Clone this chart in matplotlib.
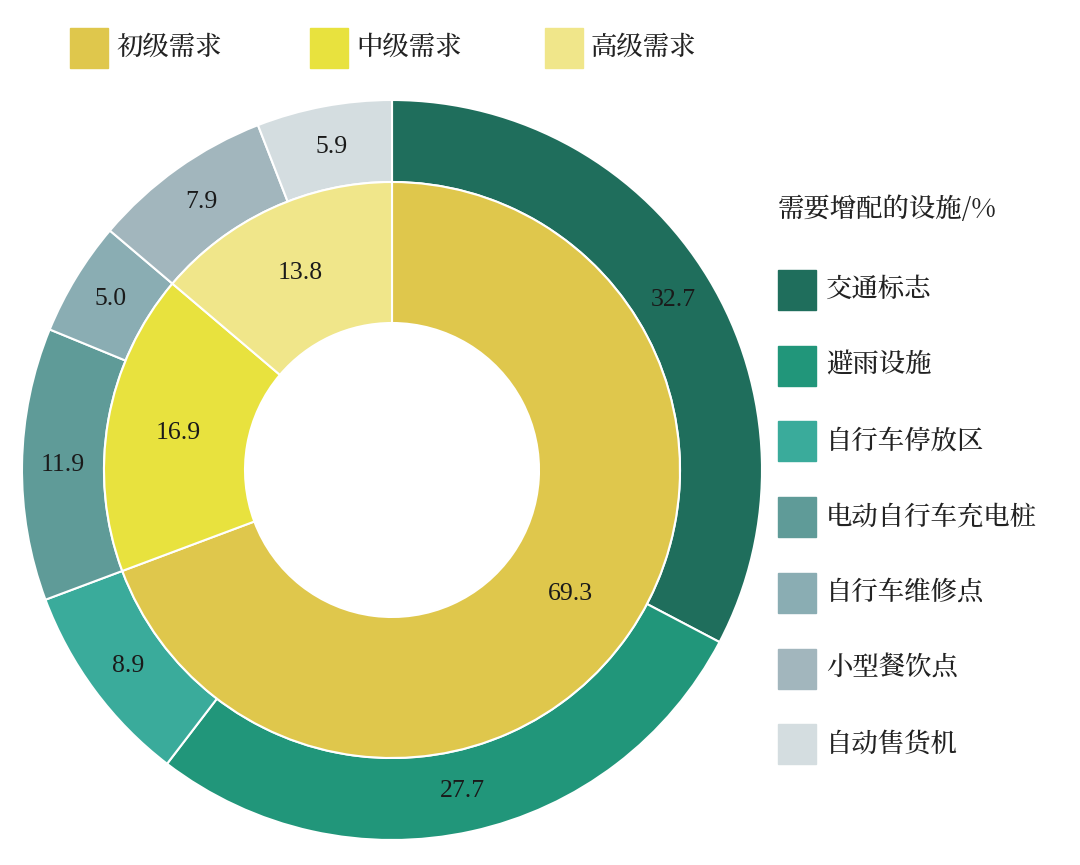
import matplotlib
matplotlib.use("Agg")
import matplotlib.pyplot as plt
from matplotlib.patches import Rectangle
from matplotlib import font_manager as fm

cjk = None
for f in fm.fontManager.ttflist:
    if 'CJK' in f.name and ('SC' in f.name or cjk is None):
        cjk = f
        if 'SC' in f.name:
            break
cjk_prop = fm.FontProperties(fname=cjk.fname, size=19) if cjk else fm.FontProperties(family='sans-serif', size=19)

outer_labels = ["交通标志", "避雨设施", "自行车停放区", "电动自行车充电桩", "自行车维修点", "小型餐饮点", "自动售货机"]
outer_values = [32.7, 27.7, 8.9, 11.9, 5.0, 7.9, 5.9]
outer_colors = ["#1f6e5c", "#21967a", "#3aab9b", "#5f9b98", "#8aadb3", "#a2b6bd", "#d4dde0"]
inner_labels = ["初级需求", "中级需求", "高级需求"]
inner_values = [69.3, 16.9, 13.8]
inner_colors = ["#dfc74c", "#e8e23e", "#f0e68a"]

fig = plt.figure(figsize=(10.8, 8.65), dpi=100)
ax = fig.add_axes([22/1080, 25/865, 740/1080, 740/865])
R = 1.0
w_out = 82/370
r_mid = 288/370
w_in = (288-147)/370

ax.pie(outer_values, radius=R, colors=outer_colors, startangle=90, counterclock=False,
       wedgeprops=dict(width=w_out, edgecolor='white', linewidth=1.5),
       labels=[f"{v:.1f}" for v in outer_values], labeldistance=(R - w_out/2)/R,
       textprops=dict(fontsize=18.5, family='Liberation Serif', ha='center', va='center', color='#1a1a1a'))
ax.pie(inner_values, radius=r_mid, colors=inner_colors, startangle=90, counterclock=False,
       wedgeprops=dict(width=w_in, edgecolor='white', linewidth=1.5),
       labels=[f"{v:.1f}" for v in inner_values], labeldistance=(r_mid - w_in/2)/r_mid,
       textprops=dict(fontsize=18.5, family='Liberation Serif', ha='center', va='center', color='#1a1a1a'))
ax.set_xlim(-1, 1); ax.set_ylim(-1, 1)
ax.set_aspect('equal')

W, H = 1080, 865
top_x = [70, 310, 545]
for i, (lab, c) in enumerate(zip(inner_labels, inner_colors)):
    x0 = top_x[i]
    fig.add_artist(Rectangle((x0/W, (H-68)/H), 38/W, 40/H, color=c, transform=fig.transFigure))
    fig.text((x0+46)/W, (H-48)/H, lab, fontproperties=cjk_prop, va='center', ha='left', color='#222222')

fig.text(778/W, (H-210)/H, "需要增配的设施/%", fontproperties=cjk_prop, va='center', ha='left', color='#222222')
for i, (lab, c) in enumerate(zip(outer_labels, outer_colors)):
    yc = 290 + i*75.7
    fig.add_artist(Rectangle((778/W, (H-yc-20)/H), 38/W, 40/H, color=c, transform=fig.transFigure))
    fig.text(826/W, (H-yc)/H, lab, fontproperties=cjk_prop, va='center', ha='left', color='#222222')

fig.savefig("out.png", dpi=100)
